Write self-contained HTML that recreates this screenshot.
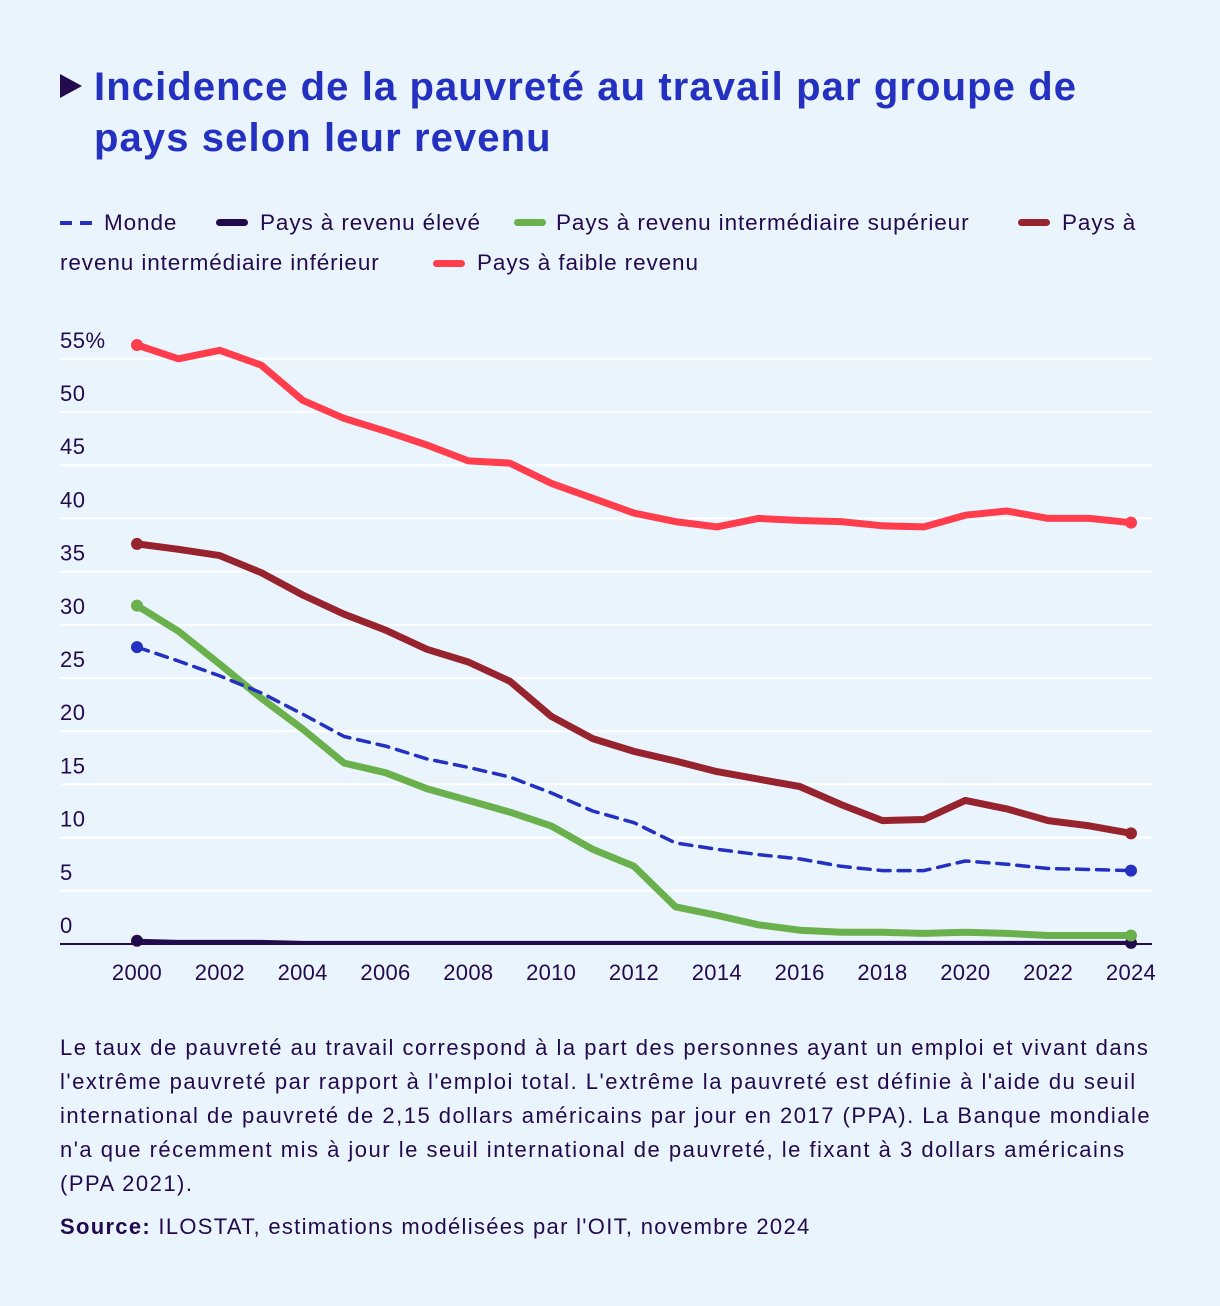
<!DOCTYPE html>
<html><head><meta charset="utf-8">
<style>
body{margin:0;background:#eaf4fc;}
#wrap{position:relative;width:1220px;height:1306px;background:#eaf4fc;font-family:"Liberation Sans",sans-serif;color:#230a4d;overflow:hidden}
h1{position:absolute;left:94px;top:62px;margin:0;font-size:40px;letter-spacing:1.1px;line-height:51px;color:#2330c0;font-weight:bold;white-space:nowrap}
.tri{position:absolute;left:60px;top:74px;width:0;height:0;border-top:12px solid transparent;border-bottom:12px solid transparent;border-left:22px solid #230a4d}
.lt{position:absolute;font-size:22.5px;letter-spacing:0.9px;white-space:nowrap;line-height:26px}
.sw{position:absolute;width:32px;height:7px;border-radius:4px}
.note{position:absolute;left:60px;top:1031px;font-size:22px;letter-spacing:1.5px;line-height:34px;white-space:nowrap}
.src{position:absolute;left:60px;top:1214px;font-size:22px;letter-spacing:1.3px;white-space:nowrap}
</style></head><body>
<div id="wrap">
<div class="tri"></div>
<h1>Incidence de la pauvreté au travail par groupe de<br>pays selon leur revenu</h1>
<div>
<svg style="position:absolute;left:60px;top:219px" width="32" height="8"><line x1="0" y1="4" x2="32" y2="4" stroke="#2330c0" stroke-width="4" stroke-dasharray="12,8"/></svg>
<span class="lt" style="left:104px;top:210px">Monde</span>
<span class="sw" style="left:216px;top:219px;background:#230a4d"></span>
<span class="lt" style="left:260px;top:210px">Pays à revenu élevé</span>
<span class="sw" style="left:514px;top:219px;background:#6ab04c"></span>
<span class="lt" style="left:556px;top:210px">Pays à revenu intermédiaire supérieur</span>
<span class="sw" style="left:1018px;top:219px;background:#96232e"></span>
<span class="lt" style="left:1062px;top:210px">Pays à</span>
<span class="lt" style="left:60px;top:250px">revenu intermédiaire inférieur</span>
<span class="sw" style="left:433px;top:260px;background:#ff3d4d"></span>
<span class="lt" style="left:477px;top:250px">Pays à faible revenu</span>
</div>
<svg id="chart" width="1220" height="1000" style="position:absolute;left:0;top:0"></svg>
<div class="note">Le taux de pauvreté au travail correspond à la part des personnes ayant un emploi et vivant dans<br>l'extrême pauvreté par rapport à l'emploi total. L'extrême la pauvreté est définie à l'aide du seuil<br>international de pauvreté de 2,15 dollars américains par jour en 2017 (PPA). La Banque mondiale<br>n'a que récemment mis à jour le seuil international de pauvreté, le fixant à 3 dollars américains<br>(PPA 2021).</div>
<div class="src"><b>Source:</b> ILOSTAT, estimations modélisées par l'OIT, novembre 2024</div>
</div>
<script>
const years=[2000,2001,2002,2003,2004,2005,2006,2007,2008,2009,2010,2011,2012,2013,2014,2015,2016,2017,2018,2019,2020,2021,2022,2023,2024];
const yTicks=[0,5,10,15,20,25,30,35,40,45,50,55];
const xTicks=[2000,2002,2004,2006,2008,2010,2012,2014,2016,2018,2020,2022,2024];
const lowIncome=[56.3,55.0,55.8,54.4,51.1,49.4,48.2,46.9,45.4,45.2,43.3,41.9,40.5,39.7,39.2,40.0,39.8,39.7,39.3,39.2,40.3,40.7,40.0,40.0,39.6];
const lowerMiddle=[37.6,37.1,36.5,34.9,32.8,31.0,29.5,27.7,26.5,24.7,21.4,19.3,18.1,17.2,16.2,15.5,14.8,13.1,11.6,11.7,13.5,12.7,11.6,11.1,10.4];
const upperMiddle=[31.8,29.4,26.3,23.1,20.2,17.0,16.1,14.6,13.5,12.4,11.1,8.9,7.3,3.5,2.7,1.8,1.3,1.1,1.1,1.0,1.1,1.0,0.8,0.8,0.8];
const world=[27.9,26.6,25.2,23.6,21.6,19.5,18.6,17.4,16.6,15.7,14.2,12.5,11.4,9.5,8.9,8.4,8.0,7.3,6.9,6.9,7.8,7.5,7.1,7.0,6.9];
const highIncome=[0.3,0.2,0.2,0.2,0.1,0.1,0.1,0.1,0.1,0.1,0.1,0.1,0.1,0.1,0.1,0.1,0.1,0.1,0.1,0.1,0.1,0.1,0.1,0.1,0.1];
const NS="http://www.w3.org/2000/svg";
const svg=document.getElementById('chart');
const X=y=>137+(y-2000)*(1131-137)/24;
const Y=v=>944-v*10.64;
function mk(t,a){const e=document.createElementNS(NS,t);for(const k in a)e.setAttribute(k,a[k]);svg.appendChild(e);return e;}
yTicks.forEach(t=>{
 const g=mk('line',{x1:60,x2:1152,y1:Y(t),y2:Y(t),stroke:t===0?'#230a4d':'#ffffff','stroke-width':2});
 
 
 const l=mk('text',{x:60,y:Y(t)-11,'font-size':22,'letter-spacing':0.5,fill:'#230a4d','font-family':'Liberation Sans, sans-serif'});
 l.textContent=t===55?'55%':String(t);
 
 
});
xTicks.forEach(t=>{
 const l=mk('text',{x:X(t),y:980,'font-size':22,'letter-spacing':0.3,fill:'#230a4d','text-anchor':'middle','font-family':'Liberation Sans, sans-serif'});
 l.textContent=String(t);
 
 
});
function series(data,color,name,dash,w){
 const d=data.map((v,i)=>(i?'L':'M')+X(years[i]).toFixed(1)+','+Y(v).toFixed(1)).join('');
 const p=mk('path',{d:d,fill:'none',stroke:color,'stroke-width':w,'stroke-linejoin':'round','stroke-linecap':'round'});
 if(dash)p.setAttribute('stroke-dasharray',dash);
 
 
 [0,data.length-1].forEach(i=>{
  const c=mk('circle',{cx:X(years[i]),cy:Y(data[i]),r:6,fill:color});
  
  
 });
}
series(highIncome,'#230a4d','high-income',null,4);
series(upperMiddle,'#6ab04c','upper-middle-income',null,7);
series(world,'#2330c0','world','12,8',3.5);
series(lowerMiddle,'#96232e','lower-middle-income',null,7);
series(lowIncome,'#ff3d4d','low-income',null,7);
</script>
</body></html>
